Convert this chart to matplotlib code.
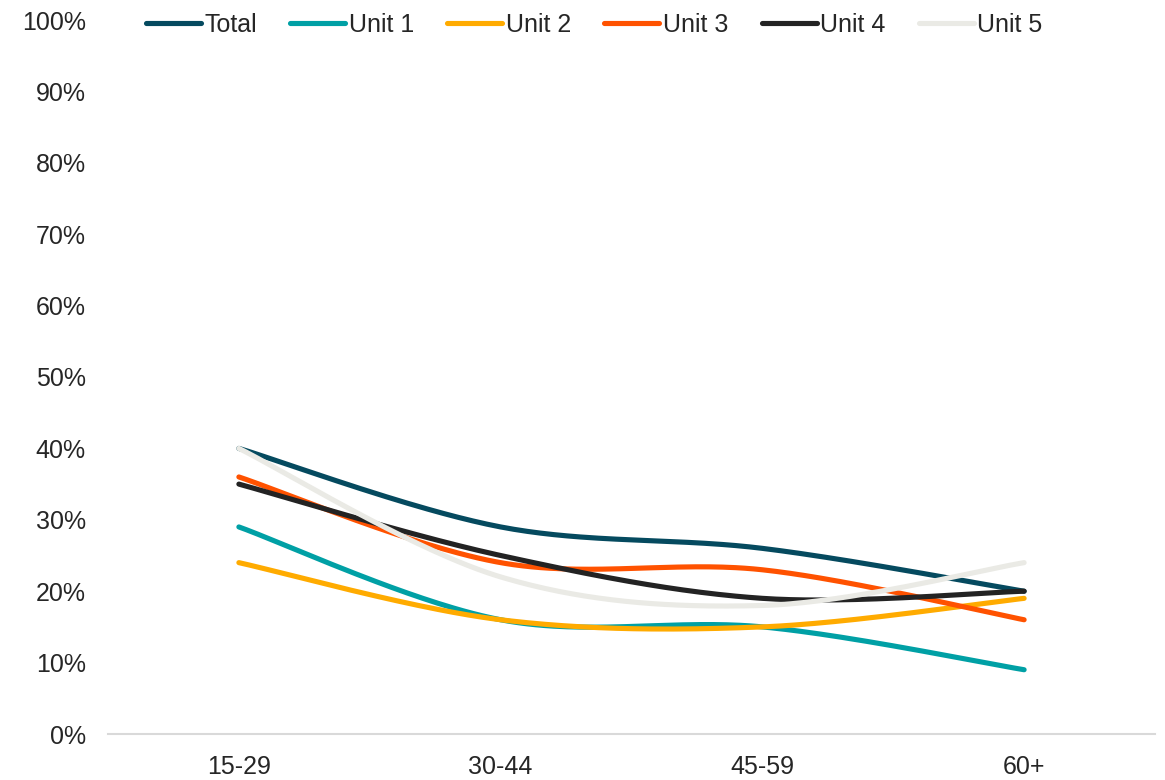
import numpy as np
import matplotlib.pyplot as plt
from matplotlib.ticker import FuncFormatter

# Age groups on the x axis
age_groups = ["15-29", "30-44", "45-59", "60+"]

# Share per age group (%)
total = [40, 29, 26, 20]
unit_1 = [29, 16, 15, 9]
unit_2 = [24, 16, 15, 19]
unit_3 = [36, 24, 23, 16]
unit_4 = [35, 25, 19, 20]
unit_5 = [40, 22, 18, 24]

series = [
    ("Total", total, "#054a5f"),
    ("Unit 1", unit_1, "#00a0a5"),
    ("Unit 2", unit_2, "#ffab00"),
    ("Unit 3", unit_3, "#ff5200"),
    ("Unit 4", unit_4, "#232323"),
    ("Unit 5", unit_5, "#eaeae5"),
]


def smooth(xs, ys, n=60):
    # Bezier smoothing through every point (control points at 1/6 of neighbour diff)
    pts = np.column_stack([xs, ys]).astype(float)
    ext = np.vstack([pts[0], pts, pts[-1]])
    out = []
    t = np.linspace(0, 1, n)[:, None]
    for i in range(len(pts) - 1):
        p0, p1 = ext[i + 1], ext[i + 2]
        c1 = p0 + (ext[i + 2] - ext[i]) / 6
        c2 = p1 - (ext[i + 3] - ext[i + 1]) / 6
        seg = ((1 - t) ** 3) * p0 + 3 * ((1 - t) ** 2) * t * c1 + 3 * (1 - t) * t ** 2 * c2 + t ** 3 * p1
        out.append(seg if i == 0 else seg[1:])
    out = np.vstack(out)
    return out[:, 0], out[:, 1]


plt.rcParams["font.family"] = ["Liberation Sans", "DejaVu Sans"]

fig = plt.figure(figsize=(11.65, 7.8), dpi=100)
ax = fig.add_axes([108 / 1165, 46 / 780, 1047 / 1165, 714 / 780])

x = np.arange(len(age_groups))
for name, vals, color in series:
    sx, sy = smooth(x, np.array(vals) / 100)
    ax.plot(sx, sy, color=color, lw=3.7, solid_capstyle="round", label=name)

ax.set_xlim(-0.5, len(age_groups) - 0.5)
ax.set_ylim(0, 1)
ax.set_xticks(x)
ax.set_xticklabels(age_groups)
ax.set_yticks(np.arange(0, 1.01, 0.1))
ax.yaxis.set_major_formatter(FuncFormatter(lambda v, _: f"{v * 100:.0f}%"))
ax.tick_params(length=0, labelsize=18, colors="#262626")
ax.tick_params(axis="x", pad=15)
ax.tick_params(axis="y", pad=16)

for side in ["top", "right", "left"]:
    ax.spines[side].set_visible(False)
ax.spines["bottom"].set_color("#d9d9d9")
ax.spines["bottom"].set_linewidth(1.5)

fig.legend(loc="center left", bbox_to_anchor=(136 / 1165, 1 - 25 / 780), ncol=6,
           frameon=False, fontsize=18, handlelength=2.2, handletextpad=0.15,
           columnspacing=1.32, borderaxespad=0, labelcolor="#262626")

fig.savefig("out.png", dpi=100)
